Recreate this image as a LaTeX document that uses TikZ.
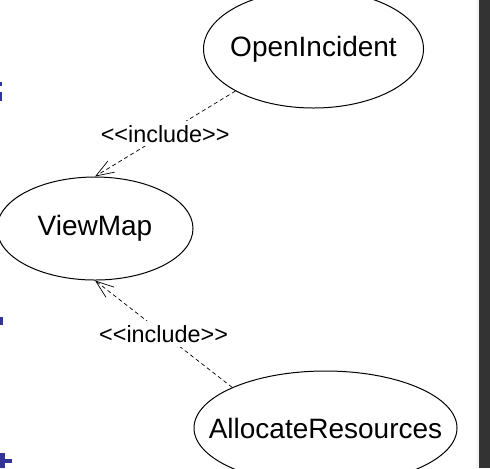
\documentclass[tikz,border=0pt]{standalone}
\usepackage{fontspec}
\setmainfont{Liberation Sans}
\usepackage{xcolor}
\usepackage{tikz}
\usetikzlibrary{shapes.geometric, arrows.meta, positioning}
\definecolor{slideblue}{RGB}{52,52,150}
\definecolor{sidebar}{RGB}{51,51,51}
\newcommand{\ucname}[1]{\makebox[0pt]{#1}}
\tikzset{
  usecase/.style={draw, ellipse, line width=0.5pt, inner sep=0pt, font=\fontsize{14}{17}\selectfont},
  incl/.style={draw, dashed, dash pattern=on 2pt off 1.5pt, line width=0.35pt, -{Straight Barb[length=9pt,width=6.5pt,line width=0.35pt]}},
  stereo/.style={fill=white, inner sep=2pt, font=\fontsize{11.7}{14}\selectfont}
}
\begin{document}
\begin{tikzpicture}[x=0.5pt,y=-0.5pt]
        \useasboundingbox (0,0) rectangle (490,468);
        \fill[white] (0,0) rectangle (490,468);
        % leftover bits of the slide
        \fill[slideblue] (0,82) rectangle (1.7,86);
        \fill[slideblue] (0,91.7) rectangle (2.3,100.7);
        \fill[slideblue] (0,316.7) rectangle (2.7,325);
        \fill[slideblue] (0,453) rectangle (5,468);
        \fill[slideblue] (0,459) rectangle (12,463);
        \fill[gray!8] (476,0) rectangle (479,468);
        \fill[sidebar] (479,0) rectangle (490,468);
        % use cases
        \node[usecase, minimum width=110pt, minimum height=59pt] (openIncident) at (313.5,49) {\ucname{OpenIncident}};
        \node[usecase, minimum width=98pt, minimum height=51.5pt] (viewMap) at (95,228.5) {\ucname{ViewMap}};
        \node[usecase, minimum width=131.5pt, minimum height=57pt] (allocRes) at (325.5,428) {\ucname{AllocateResources}};
        % include relations
        \draw[incl] (openIncident.south west) -- (viewMap.north) node[midway, stereo] {<{}<include>{}>};
        \draw[incl] (allocRes.north west) -- (viewMap.south) node[midway, stereo] {<{}<include>{}>};
      \end{tikzpicture}
\end{document}
